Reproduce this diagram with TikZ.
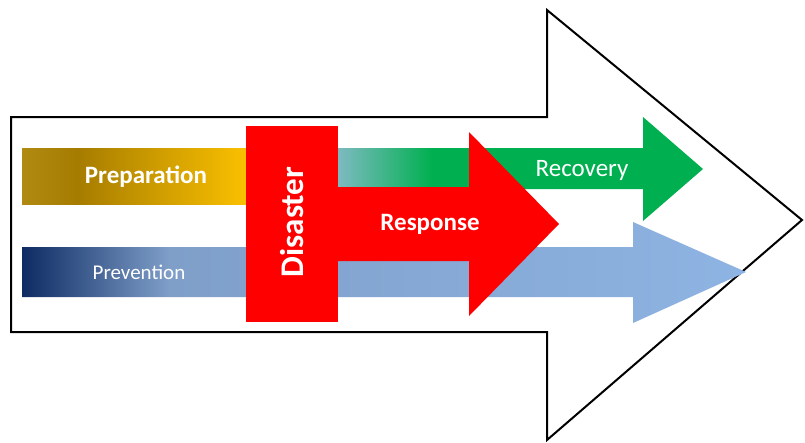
\documentclass[tikz,border=0pt]{standalone}
\usepackage{fontspec}
\setmainfont{Carlito}
\usetikzlibrary{calc}
\definecolor{prepleft}{HTML}{B08A12}
\definecolor{prepdark}{HTML}{A67C00}
\definecolor{preplight}{HTML}{FAC000}
\definecolor{prevdark}{HTML}{0E2B63}
\definecolor{prevmid}{HTML}{7F9FC9}
\definecolor{prevlight}{HTML}{8EB4E3}
\definecolor{recteal}{HTML}{7DBAC0}
\definecolor{recgreen}{HTML}{00B050}
\definecolor{dred}{HTML}{FF0000}
\pgfdeclarehorizontalshading{prepshade}{100bp}{color(0bp)=(prepleft); color(25bp)=(prepleft);
  color(37.3bp)=(prepdark); color(75bp)=(preplight); color(100bp)=(preplight)}
\pgfdeclarehorizontalshading{prevshade}{100bp}{color(0bp)=(prevdark); color(25bp)=(prevdark);
  color(35.2bp)=(prevmid); color(75bp)=(prevlight); color(100bp)=(prevlight)}
\pgfdeclarehorizontalshading{recshade}{100bp}{color(0bp)=(recteal); color(25bp)=(recteal);
  color(37.9bp)=(recgreen); color(100bp)=(recgreen)}
\tikzstyle{phase} = [text=white, inner sep=0pt, align=center]
\tikzstyle{bold} = [font=\bfseries\fontsize{25}{30}\selectfont]
\tikzstyle{plain} = [font=\fontsize{21}{26}\selectfont]

\begin{document}
\begin{tikzpicture}[x=1pt,y=-1pt]
      \useasboundingbox (0,0) rectangle (805,442);
      % outer arrow
      \draw[line width=2pt, fill=white] (11,117) -- (547,117) -- (547,10) -- (802,220)
            -- (547,440) -- (547,332) -- (11,332) -- cycle;
      % preparation
      \shade[shading=prepshade] (22,148) rectangle (246,204);
      % prevention
      \shade[shading=prevshade] (22,247) -- (633,247) -- (633,222)
            -- (746,272) -- (633,323) -- (633,297) -- (22,297) -- cycle;
      % recovery
      \shade[shading=recshade] (338,148) -- (643,148) -- (643,117) -- (703,169) -- (643,221)
            -- (643,189) -- (338,189) -- cycle;
      % response
      \fill[dred] (338,187) -- (469,187) -- (469,132) -- (559,224) -- (469,316)
            -- (469,261) -- (338,261) -- cycle;
      % disaster
      \fill[dred] (246,126) rectangle (338,322);
      \node[phase, bold] (prep) at (146,177) {Preparation};
      \node[phase, plain] (prev) at (139,272) {Prevention};
      \node[phase, font=\fontsize{25}{30}\selectfont] (rec) at (582,170) {Recovery};
      \node[phase, bold] (resp) at (430,224) {Response};
      \node[phase, font=\bfseries\fontsize{33}{38}\selectfont, rotate=90] (dis) at (292,222) {Disaster};
\end{tikzpicture}
\end{document}
